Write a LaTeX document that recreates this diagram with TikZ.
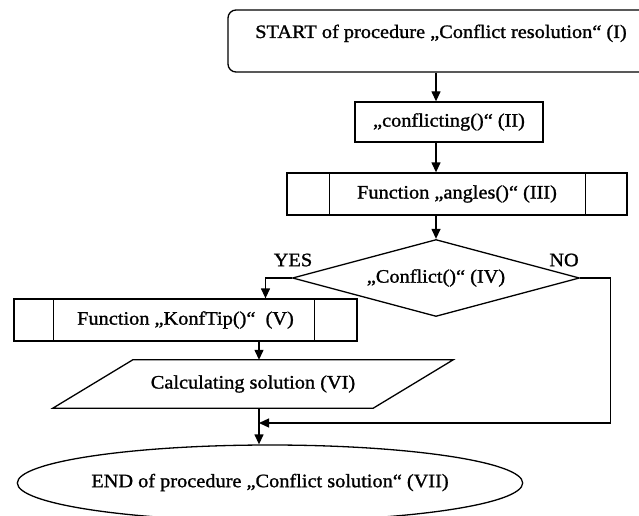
\documentclass[tikz,border=0pt]{standalone}
\usepackage{fontspec}
\setmainfont{Liberation Serif}[FakeStretch=1.07, FakeBold=1.2]
\usetikzlibrary{arrows.meta,positioning,shapes.geometric}

\begin{document}
\begin{tikzpicture}[
  x=1pt, y=-1pt,
  font=\fontsize{19pt}{22pt}\selectfont,
  box/.style={draw, line width=1.3pt, align=center, minimum height=41pt},
  subbox/.style={box, minimum height=42pt},
  arrow/.style={-{Triangle[length=10pt, width=9pt]}, line width=1.3pt},
  line/.style={line width=1.3pt}
]
  \useasboundingbox (0,0) rectangle (639,516);
  \node[box, rounded corners=8pt, minimum width=426pt, inner ysep=0pt,
    text height=28pt, text depth=34pt] (start) at (441,41)
    {START of procedure „Conflict resolution“ (I)};
  \node[box, minimum width=188pt, minimum height=40pt] (conf) at (449,122)
    {„conflicting()“ (II)};
  \node[subbox, minimum width=340pt] (ang) at (457,194)
    {Function „angles()“ (III)};
  \node[diamond, draw, line width=1.3pt, aspect=3.7, inner sep=0pt,
    minimum width=287pt, minimum height=77pt] (diam) at (436,278)
    {„Conflict()“ (IV)};
  \node[subbox, minimum width=343pt] (konf) at (185.5,320)
    {Function „KonfTip()“~~(V)};
  \node[minimum width=320pt, minimum height=48pt, inner sep=0pt] (calc) at (253,384)
    {Calculating solution (VI)};
  \node[ellipse, draw, line width=1.3pt, minimum width=437pt, minimum height=76pt,
    inner sep=0pt] (end) at (270,483) {\raisebox{5pt}{END of procedure „Conflict solution“ (VII)}};
  \node (yes) at (293,260) {YES};
  \node (no) at (564,260) {NO};
  \coordinate (mid) at (259,423);

  % inner bars of the function boxes
  \draw[line] ([xshift=43pt]ang.north west) -- ([xshift=43pt]ang.south west);
  \draw[line] ([xshift=-42pt]ang.north east) -- ([xshift=-42pt]ang.south east);
  \draw[line] ([xshift=40pt]konf.north west) -- ([xshift=40pt]konf.south west);
  \draw[line] ([xshift=-43pt]konf.north east) -- ([xshift=-43pt]konf.south east);
  % input/output slant
  \draw[line] ([xshift=-40pt]calc.south west) -- ([xshift=40pt]calc.north west)
    -- ([xshift=40pt]calc.north east) -- ([xshift=-40pt]calc.south east) -- cycle;

  \draw[arrow] (start.south -| diam.north) -- (conf.north -| diam.north);
  \draw[arrow] (conf.south -| diam.north) -- (ang.north -| diam.north);
  \draw[arrow] (ang.south -| diam.north) -- (diam.north);
  \draw[arrow] (diam.west) -| ([xshift=80pt]konf.north);
  \draw[arrow] (konf.south -| mid) -- (calc.north -| mid);
  \draw[arrow] (calc.south -| mid) -- (end.north -| mid);
  \draw[arrow] (diam.east) -- ++(30,0) |- (mid);
\end{tikzpicture}
\end{document}
